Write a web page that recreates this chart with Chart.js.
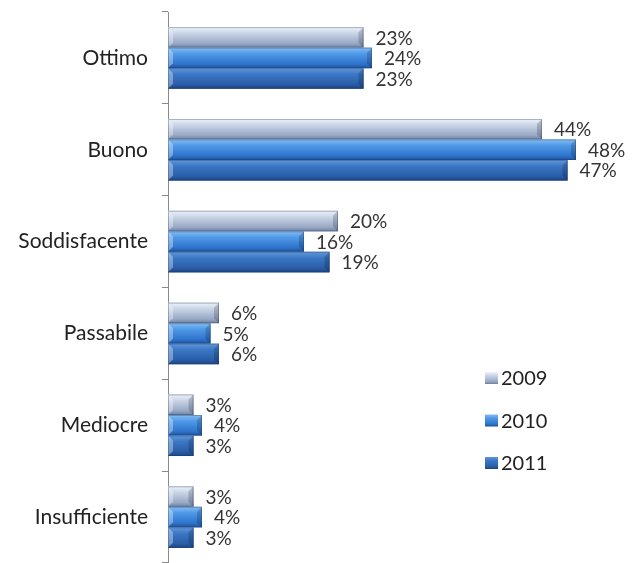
<!DOCTYPE html>
<html>
<head>
<meta charset="utf-8">
<script src="https://cdn.jsdelivr.net/npm/chart.js@4"></script>
<style>
  html, body { margin: 0; padding: 0; background: #fff; }
  #wrap { width: 632px; height: 563px; position: relative; }
</style>
</head>
<body>
<div id="wrap"><canvas id="chart"></canvas></div>
<script>
const categories = ["Ottimo", "Buono", "Soddisfacente", "Passabile", "Mediocre", "Insufficiente"];
const years = ["2009", "2010", "2011"];
const values2009 = [23, 44, 20, 6, 3, 3];
const values2010 = [24, 48, 16, 5, 4, 4];
const values2011 = [23, 47, 19, 6, 3, 3];

// gradient stops per series, top -> bottom
const shades = [
  ["#eef3fb", "#c9d4e6", "#98a8c4", "#6f809e"],
  ["#86bdf3", "#4f99e8", "#2e73cb", "#1d529c"],
  ["#6398d8", "#3b77c5", "#295da6", "#1a4282"],
];
const baseColors = ["#a9b7cf", "#3b86dc", "#2e64b0"];

const FONT = "Lato, 'DejaVu Sans', sans-serif";

function barGradient(ctx, top, bottom, stops) {
  const g = ctx.createLinearGradient(0, top, 0, bottom);
  g.addColorStop(0, stops[0]);
  g.addColorStop(0.3, stops[1]);
  g.addColorStop(0.8, stops[2]);
  g.addColorStop(1, stops[3]);
  return g;
}

// paint the shaded look over each bar the library placed
const shadedBars = {
  id: "shadedBars",
  afterDatasetsDraw(chart) {
    const ctx = chart.ctx;
    ctx.save();
    chart.data.datasets.forEach((ds, di) => {
      const meta = chart.getDatasetMeta(di);
      meta.data.forEach((bar) => {
        const top = bar.y - bar.height / 2;
        const bottom = bar.y + bar.height / 2;
        const left = Math.min(bar.base, bar.x);
        const right = Math.max(bar.base, bar.x);
        ctx.fillStyle = barGradient(ctx, top, bottom, shades[di]);
        ctx.fillRect(left, top, right - left, bottom - top);
        // end bevel
        const bev = Math.min(5, (right - left) / 3);
        ctx.fillStyle = "rgba(0,0,0,0.18)";
        ctx.beginPath();
        ctx.moveTo(right - bev, top + bev);
        ctx.lineTo(right, top);
        ctx.lineTo(right, bottom);
        ctx.lineTo(right - bev, bottom - bev);
        ctx.closePath();
        ctx.fill();
        ctx.fillStyle = "rgba(255,255,255,0.35)";
        ctx.beginPath();
        ctx.moveTo(left, top);
        ctx.lineTo(left + bev, top + bev);
        ctx.lineTo(left + bev, bottom - bev);
        ctx.lineTo(left, bottom);
        ctx.closePath();
        ctx.fill();
        ctx.strokeStyle = "rgba(40,60,100,0.35)";
        ctx.lineWidth = 1;
        ctx.strokeRect(left + 0.5, top + 0.5, right - left - 1, bottom - top - 1);
      });
    });
    ctx.restore();
  },
};

const valueLabels = {
  id: "valueLabels",
  afterDatasetsDraw(chart) {
    const ctx = chart.ctx;
    ctx.save();
    ctx.font = "19px " + FONT;
    ctx.fillStyle = "#333";
    ctx.textAlign = "left";
    ctx.textBaseline = "middle";
    chart.data.datasets.forEach((ds, di) => {
      chart.getDatasetMeta(di).data.forEach((bar, i) => {
        ctx.fillText(ds.data[i] + "%", bar.x + 12, bar.y + 1);
      });
    });
    ctx.restore();
  },
};

const sideLegend = {
  id: "sideLegend",
  afterDraw(chart) {
    const ctx = chart.ctx;
    ctx.save();
    ctx.font = "20px " + FONT;
    ctx.textBaseline = "middle";
    years.forEach((y, i) => {
      const cy = 378 + i * 42.5;
      ctx.fillStyle = barGradient(ctx, cy - 6, cy + 6, shades[i]);
      ctx.fillRect(485, cy - 6, 13, 12);
      ctx.fillStyle = "#222";
      ctx.fillText(y, 501, cy + 1);
    });
    ctx.restore();
  },
};

new Chart(document.getElementById("chart"), {
  type: "bar",
  data: {
    labels: categories,
    datasets: [
      { label: years[0], data: values2009, backgroundColor: baseColors[0] },
      { label: years[1], data: values2010, backgroundColor: baseColors[1] },
      { label: years[2], data: values2011, backgroundColor: baseColors[2] },
    ],
  },
  options: {
    indexAxis: "y",
    responsive: true,
    maintainAspectRatio: false,
    animation: false,
    layout: { padding: { top: 12, right: 39, bottom: 0, left: 0 } },
    datasets: {
      bar: { categoryPercentage: 0.67, barPercentage: 1 },
    },
    scales: {
      x: { display: false, min: 0, max: 50 },
      y: {
        afterFit(scale) {
          scale.width = 168;
          scale.paddingTop = 0;
          scale.paddingBottom = 0;
        },
        border: { display: true, color: "#8a8a8a", width: 1 },
        grid: { drawOnChartArea: false, tickLength: 6, color: "#8a8a8a" },
        ticks: { color: "#222", padding: 14, font: { family: FONT, size: 21 } },
      },
    },
    plugins: {
      legend: { display: false },
      tooltip: { enabled: false },
    },
  },
  plugins: [shadedBars, valueLabels, sideLegend],
});
</script>
</body>
</html>
